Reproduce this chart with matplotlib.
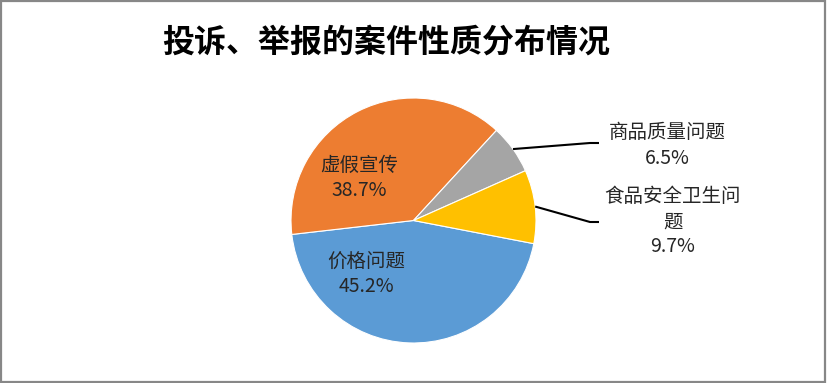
import numpy as np
import matplotlib
matplotlib.use("Agg")
import matplotlib.pyplot as plt
from matplotlib.patches import Rectangle

plt.rcParams['font.family'] = ['Noto Sans CJK SC', 'DejaVu Sans']

title = '投诉、举报的案件性质分布情况'
categories = ['价格问题', '虚假宣传', '商品质量问题', '食品安全卫生问题']
shares = [45.2, 38.7, 6.5, 9.7]
display_names = ['价格问题', '虚假宣传', '商品质量问题', '食品安全卫生问\n题']
colors = ['#5B9BD5', '#ED7D31', '#A5A5A5', '#FFC000']

W, H = 827, 383
fig = plt.figure(figsize=(W / 100, H / 100), dpi=100)
ax = fig.add_axes([0, 0, 1, 1])
ax.set_xlim(0, W)
ax.set_ylim(0, H)
ax.set_aspect('equal')
ax.axis('off')

cx, cy, R = 413.5, H - 220.5, 122.5
wedges, _ = ax.pie(shares, colors=colors, startangle=-10.9, counterclock=False,
                   center=(cx, cy), radius=R, frame=True,
                   wedgeprops=dict(edgecolor='white', linewidth=0.8))
ax.set_xlim(0, W)
ax.set_ylim(0, H)
ax.axis('off')

fs = 14
# labels placed inside the two large slices
inside = {0: (366, H - 274), 1: (359, H - 178)}
for i, (x, y) in inside.items():
    ax.text(x, y, f'{display_names[i]}\n{shares[i]:.1f}%', ha='center', va='center',
            fontsize=fs, color='#262626', linespacing=1.25)

# labels outside with leader lines for the two small slices
outside = {2: ((599, H - 143), (667, H - 145.5)),
           3: ((599, H - 222), (673, H - 222))}
for i, ((ex, ey), (tx, ty)) in outside.items():
    w = wedges[i]
    mid = np.deg2rad((w.theta1 + w.theta2) / 2)
    sx, sy = cx + R * np.cos(mid), cy + R * np.sin(mid)
    ax.plot([sx, ex - 9, ex], [sy, ey, ey], color='black', lw=1.5,
            solid_capstyle='butt')
    ax.text(tx, ty, f'{display_names[i]}\n{shares[i]:.1f}%', ha='center', va='center',
            fontsize=fs, color='#262626', linespacing=1.25)

fig.text(386 / W, 1 - 43 / H, title, ha='center', va='center',
         fontsize=23, fontweight='bold', color='black')

fig.patches.append(Rectangle((0.001, 0.002), 0.997, 0.995, transform=fig.transFigure,
                             fill=False, edgecolor='#878787', linewidth=1.6))

fig.savefig('out.png', dpi=100)
